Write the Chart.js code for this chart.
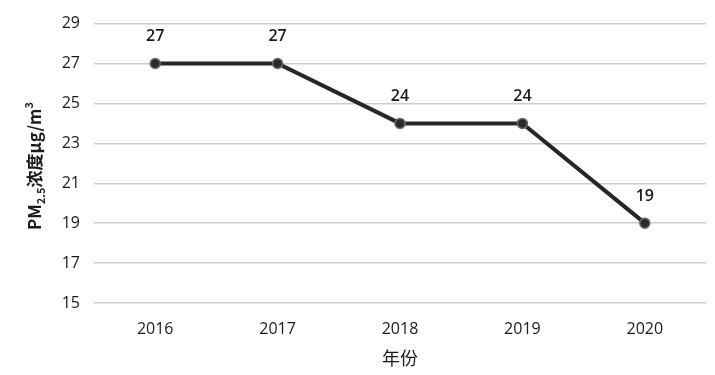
<!DOCTYPE html>
<html>
<head>
<meta charset="utf-8">
<script src="https://cdn.jsdelivr.net/npm/chart.js@4"></script>
<style>
  html, body { margin: 0; padding: 0; background: #fff; }
  #wrap { width: 715px; height: 375px; }
</style>
</head>
<body>
<div id="wrap"><canvas id="pmChart" width="715" height="375"></canvas></div>
<script>
// data
const years = ["2016", "2017", "2018", "2019", "2020"];
const pmValues = [27, 27, 24, 24, 19];
const yTicks = [15, 17, 19, 21, 23, 25, 27, 29];

const FONT = "'Open Sans', 'Noto Sans CJK SC', sans-serif";
const CJK = "'Noto Sans CJK SC', 'Open Sans', sans-serif";

// value labels above each point
const valueLabels = {
  id: "valueLabels",
  afterDatasetsDraw(chart) {
    const ctx = chart.ctx;
    const meta = chart.getDatasetMeta(0);
    ctx.save();
    ctx.font = "600 16px " + FONT;
    ctx.fillStyle = "#1a1a1a";
    ctx.textAlign = "center";
    ctx.textBaseline = "middle";
    meta.data.forEach((pt, i) => {
      ctx.fillText(String(pmValues[i]), pt.x, pt.y - 27);
    });
    ctx.restore();
  }
};

// axis titles (y title needs sub/superscript)
const axisTitles = {
  id: "axisTitles",
  afterDraw(chart) {
    const ctx = chart.ctx;
    const area = chart.chartArea;
    ctx.save();
    ctx.fillStyle = "#1a1a1a";
    ctx.textBaseline = "alphabetic";

    // x title
    ctx.font = "18px " + CJK;
    ctx.textAlign = "center";
    ctx.fillText("年份", (area.left + area.right) / 2, 365);

    // y title, rotated
    const parts = [
      { t: "PM", size: 17, dy: 0 },
      { t: "2.5", size: 11, dy: 4 },
      { t: "浓度μg/m", size: 17, dy: 0 },
      { t: "3", size: 11, dy: -8 }
    ];
    let total = 0;
    parts.forEach(p => {
      ctx.font = "600 " + p.size + "px " + CJK;
      p.w = ctx.measureText(p.t).width;
      total += p.w;
    });
    ctx.translate(41, 166);
    ctx.rotate(-Math.PI / 2);
    ctx.textAlign = "left";
    let x = -total / 2;
    parts.forEach(p => {
      ctx.font = "600 " + p.size + "px " + CJK;
      ctx.fillText(p.t, x, p.dy);
      x += p.w;
    });
    ctx.restore();
  }
};

new Chart(document.getElementById("pmChart"), {
  type: "line",
  data: {
    labels: years,
    datasets: [{
      data: pmValues,
      borderColor: "#262626",
      borderWidth: 4,
      pointRadius: 5,
      pointBackgroundColor: "#2b2b2b",
      pointBorderColor: "#6a6a6a",
      pointBorderWidth: 1.5,
      tension: 0
    }]
  },
  options: {
    responsive: false,
    animation: false,
    layout: { padding: { top: 21, right: 9, left: 0, bottom: 0 } },
    plugins: {
      legend: { display: false },
      tooltip: { enabled: false }
    },
    scales: {
      x: {
        offset: true,
        grid: { display: false },
        border: { display: false },
        ticks: { color: "#1a1a1a", font: { size: 16, family: FONT }, padding: 9 },
        afterFit(scale) { scale.height = 72; }
      },
      y: {
        min: 15,
        max: 29,
        afterBuildTicks(scale) { scale.ticks = yTicks.map(v => ({ value: v })); },
        grid: { color: "#cccccc", lineWidth: 1.5, drawTicks: false },
        border: { display: false },
        ticks: { color: "#1a1a1a", font: { size: 16, family: FONT }, padding: 14 },
        afterFit(scale) { scale.width = 94; }
      }
    }
  },
  plugins: [valueLabels, axisTitles]
});
</script>
</body>
</html>
